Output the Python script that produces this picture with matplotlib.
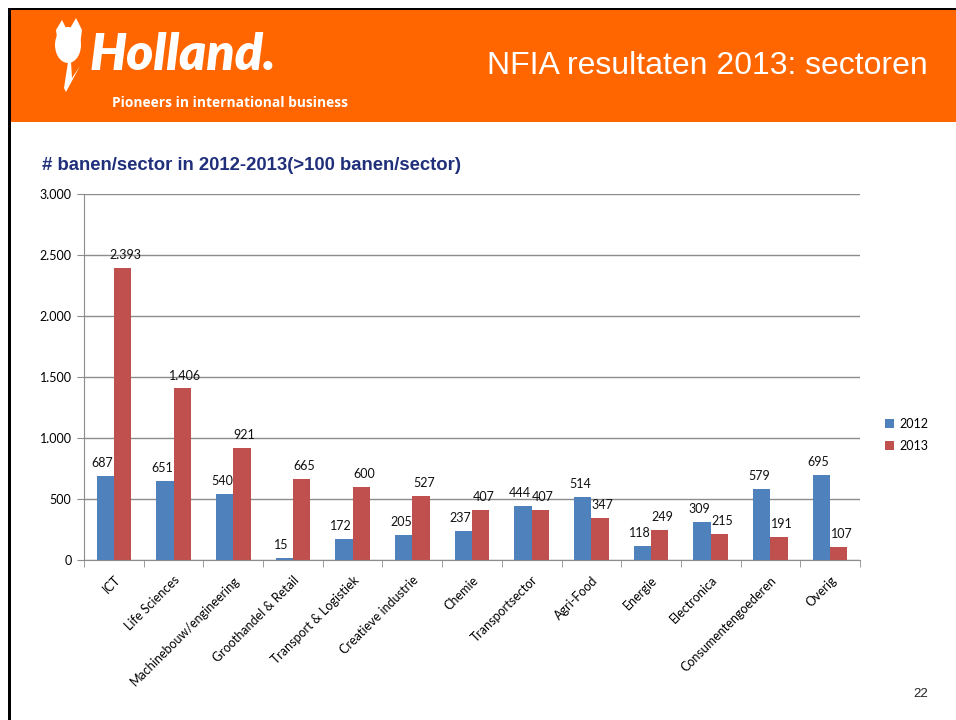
import numpy as np
import matplotlib
matplotlib.use("Agg")
import matplotlib.pyplot as plt
from matplotlib.patches import Rectangle, Polygon, Ellipse
from matplotlib.ticker import FuncFormatter, MultipleLocator

# data
sectors = ['ICT', 'Life Sciences', 'Machinebouw/engineering', 'Groothandel & Retail',
           'Transport & Logistiek', 'Creatieve industrie', 'Chemie', 'Transportsector',
           'Agri-Food', 'Energie', 'Electronica', 'Consumentengoederen', 'Overig']
jobs_2012 = [687, 651, 540, 15, 172, 205, 237, 444, 514, 118, 309, 579, 695]
jobs_2013 = [2393, 1406, 921, 665, 600, 527, 407, 407, 347, 249, 215, 191, 107]
years = ['2012', '2013']

blue = '#4F81BD'
red = '#C0504D'
orange = '#FF6600'
W, H = 956, 720


def dots(v):
    # dutch thousands separator
    return f'{int(v):,}'.replace(',', '.')


fig = plt.figure(figsize=(W / 100, H / 100), dpi=100)

# slide frame and orange header
fig.add_artist(Rectangle((11 / W, 1 - 122 / H), 1, 112 / H, transform=fig.transFigure,
                         facecolor=orange, edgecolor='none'))
fig.add_artist(Rectangle((8 / W, 1 - 10 / H), 1, 2.5 / H, transform=fig.transFigure,
                         facecolor='black', edgecolor='none'))
fig.add_artist(Rectangle((8 / W, 0), 3 / W, 1 - 8 / H, transform=fig.transFigure,
                         facecolor='black', edgecolor='none'))

# rough tulip logo
fig.add_artist(Ellipse((68 / W, 1 - 45 / H), 26 / W, 36 / H, transform=fig.transFigure,
                       facecolor='white', edgecolor='none'))
fig.add_artist(Polygon([(56 / W, 1 - 30 / H), (62 / W, 1 - 20 / H), (68 / W, 1 - 32 / H),
                        (76 / W, 1 - 18 / H), (82 / W, 1 - 30 / H), (80 / W, 1 - 45 / H),
                        (58 / W, 1 - 45 / H)], closed=True, transform=fig.transFigure,
                       facecolor='white', edgecolor='none'))
fig.add_artist(Polygon([(55 / W, 1 - 70 / H), (64 / W, 1 - 88 / H), (68 / W, 1 - 62 / H),
                        (71 / W, 1 - 62 / H), (72 / W, 1 - 78 / H), (80 / W, 1 - 66 / H),
                        (66 / W, 1 - 92 / H)], closed=True, transform=fig.transFigure,
                       facecolor='white', edgecolor='none'))
fig.text(90 / W, 1 - 55 / H, 'Holland.', color='white', fontsize=37, fontweight='heavy',
         style='italic', family='Lato', va='center', ha='left')
fig.text(112 / W, 1 - 103 / H, 'Pioneers in international business', color='white',
         fontsize=9.9, fontweight='bold', family='Open Sans', va='center', ha='left')
fig.text(928 / W, 1 - 66 / H, 'NFIA resultaten 2013: sectoren', color='white',
         fontsize=23, family='Liberation Sans', va='center', ha='right')

fig.text(42 / W, 1 - 165 / H, '# banen/sector in 2012-2013(>100 banen/sector)',
         color='#1F2F7A', fontsize=13.3, fontweight='bold', family='Liberation Sans',
         va='center', ha='left')
fig.text(928 / W, 1 - 694 / H, '22', color='#222222', fontsize=9.5,
         family='Liberation Sans', va='center', ha='right')

# chart
ax = fig.add_axes([84 / W, 1 - 560 / H, 776 / W, 366 / H])
x = np.arange(len(sectors))
bw = 0.29
b1 = ax.bar(x - bw / 2, jobs_2012, bw, color=blue, label=years[0])
b2 = ax.bar(x + bw / 2, jobs_2013, bw, color=red, label=years[1])

for bars, dx in ((b1, -2), (b2, 2)):
    for r in bars:
        ax.annotate(dots(r.get_height()),
                    (r.get_x() + r.get_width() / 2, r.get_height()),
                    xytext=(dx, 5), textcoords='offset points',
                    ha='center', va='bottom', fontsize=9, family='Lato', color='#111111')

ax.set_xlim(-0.5, len(sectors) - 0.5)
ax.set_ylim(0, 3000)
ax.yaxis.set_major_locator(MultipleLocator(500))
ax.yaxis.set_major_formatter(FuncFormatter(lambda v, p: dots(v)))
ax.yaxis.grid(True, color='#8C8C8C', linewidth=1)
ax.set_axisbelow(True)

ax.set_xticks(x)
ax.set_xticklabels(sectors, rotation=45, ha='right', rotation_mode='anchor',
                   fontsize=9, family='Lato')
ax.tick_params(axis='x', length=0, pad=10)
ax.set_xticks(np.arange(len(sectors) + 1) - 0.5, minor=True)
ax.tick_params(axis='x', which='minor', length=5, color='#8C8C8C')
ax.tick_params(axis='y', length=5, color='#8C8C8C', labelsize=9, pad=4)
for lab in ax.get_yticklabels():
    lab.set_family('Lato')

for s in ('top', 'right'):
    ax.spines[s].set_visible(False)
for s in ('left', 'bottom'):
    ax.spines[s].set_color('#8C8C8C')

fig.legend(handles=[b1, b2], labels=years, loc='center left',
           bbox_to_anchor=(874 / W, 1 - 435 / H), frameon=False,
           handlelength=0.7, handleheight=0.7, handletextpad=0.4, labelspacing=0.8,
           prop={'family': 'Lato', 'size': 9})

fig.savefig('out.png', dpi=100, facecolor='white')
